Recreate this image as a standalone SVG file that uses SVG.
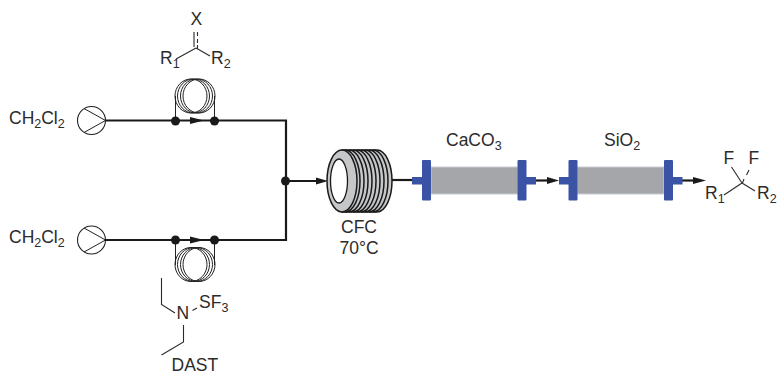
<svg xmlns="http://www.w3.org/2000/svg" width="777" height="374" viewBox="0 0 777 374">
<style>
text{font-family:"Liberation Sans",Arial,sans-serif;font-size:17.5px;fill:#2b2b2b}
.sub{font-size:12.5px}
.pipe{fill:none;stroke:#1a1a1a;stroke-width:2.2}
.thin{fill:none;stroke:#222;stroke-width:1}
.bond{fill:none;stroke:#2b2b2b;stroke-width:1.1}
.dot{fill:#1a1a1a}
.head{fill:#1a1a1a}
.blue{fill:#3b53a4}
.col{fill:#a5a6a9;stroke:#c9ccd6;stroke-width:1}
.ring{fill:#c6c7c9;stroke:#1a1a1a;stroke-width:1.5}
</style>
<defs>
<g id="pump"><circle r="14" fill="#fff" stroke="#222" stroke-width="1.1"/><path class="thin" d="M-7.5-12L14 0L-7.5 12"/></g>
<g id="coil" class="thin"><ellipse cx="-4" cy="0" rx="16" ry="17"/><ellipse cx="-1.5" cy="0" rx="16" ry="17"/><ellipse cx="1.5" cy="0" rx="16" ry="17"/><ellipse cx="4" cy="0" rx="16" ry="17"/></g>
</defs>
<g id="connectors">
<path class="pipe" d="M105 120.500H286V240H105"/>
<path class="pipe" d="M286 181H320"/>
<path class="pipe" d="M392 180H412"/>
<path class="pipe" d="M536 180.500H552"/>
<path class="pipe" d="M682 180.500H698"/>
<path class="thin" d="M175.500 120V96M214.500 120V96M175.500 240V265M214.500 240V265"/>
<path class="head" d="M190 117L204 120.500L190 124Z"/>
<path class="head" d="M190 236.500L204 240L190 243.500Z"/>
<path class="head" d="M316 177.500L328 181L316 184.500Z"/>
<path class="head" d="M547 177L559 180.500L547 184Z"/>
<path class="head" d="M693 177L706 180.500L693 184Z"/>
<circle class="dot" cx="175.500" cy="121" r="4.500"/><circle class="dot" cx="214.500" cy="121" r="4.500"/>
<circle class="dot" cx="175.500" cy="240" r="4.500"/><circle class="dot" cx="214.500" cy="240" r="4.500"/>
<circle class="dot" cx="285.500" cy="181" r="4.500"/>
</g>
<g id="solvent-top"><text x="9" y="124">CH<tspan class="sub" dy="4">2</tspan><tspan dy="-4">Cl</tspan><tspan class="sub" dy="4">2</tspan></text></g>
<g id="pump-top"><use href="#pump" x="91.500" y="120.500"/></g>
<g id="solvent-bottom"><text x="9" y="243">CH<tspan class="sub" dy="4">2</tspan><tspan dy="-4">Cl</tspan><tspan class="sub" dy="4">2</tspan></text></g>
<g id="pump-bottom"><use href="#pump" x="91.500" y="240"/></g>
<g id="coil-top"><use href="#coil" x="195" y="96"/></g>
<g id="coil-bottom"><use href="#coil" x="195" y="264.500"/></g>
<g id="substrate">
<text x="190.500" y="25">X</text>
<path class="bond" d="M194 32V47M197.500 32V36M197.500 39V43M197.500 45V49M196 48L176 59M196 48L210 56"/>
<text x="160" y="64">R<tspan class="sub" dy="4">1</tspan></text>
<text x="211" y="64">R<tspan class="sub" dy="4">2</tspan></text>
</g>
<g id="dast">
<path class="bond" d="M161.500 278V304.500L175 313M192.500 310.500L197 308M183.500 325V342L161.500 355"/>
<text x="176.500" y="319">N</text>
<text x="199" y="308">SF<tspan class="sub" dy="4">3</tspan></text>
<text x="171.500" y="371">DAST</text>
</g>
<g id="cfc">
<path class="ring" d="M342 150H377A15 31 0 0 1 377 212H342Z"/>
<path fill="none" stroke="#1a1a1a" stroke-width="1.500" d="M345 150A15 31 0 0 1 345 212M349 150A15 31 0 0 1 349 212M353 150A15 31 0 0 1 353 212M357 150A15 31 0 0 1 357 212M361 150A15 31 0 0 1 361 212M365 150A15 31 0 0 1 365 212M369 150A15 31 0 0 1 369 212M373 150A15 31 0 0 1 373 212"/>
<ellipse class="ring" cx="342" cy="181" rx="15" ry="31"/>
<ellipse cx="339" cy="181" rx="8.500" ry="22" fill="#fff" stroke="#1a1a1a" stroke-width="1.300"/>
<text x="359" y="233" text-anchor="middle">CFC</text>
<text x="359" y="254" text-anchor="middle">70°C</text>
</g>
<g id="column-caco3">
<rect class="col" x="431" y="167" width="87" height="27"/>
<rect class="blue" x="412" y="177" width="11" height="7.500"/>
<rect class="blue" x="422" y="160" width="9" height="40.500" rx="1"/>
<rect class="blue" x="517.500" y="160" width="9" height="40.500" rx="1"/>
<rect class="blue" x="526" y="177" width="10" height="7.500"/>
<text x="446" y="146">CaCO<tspan class="sub" dy="4">3</tspan></text>
</g>
<g id="column-sio2">
<rect class="col" x="577" y="167" width="87" height="27"/>
<rect class="blue" x="559" y="177" width="10" height="7.500"/>
<rect class="blue" x="568.500" y="160" width="9" height="40.500" rx="1"/>
<rect class="blue" x="664" y="160" width="9" height="40.500" rx="1"/>
<rect class="blue" x="673" y="177" width="9.500" height="7.500"/>
<text x="604" y="146">SiO<tspan class="sub" dy="4">2</tspan></text>
</g>
<g id="product">
<text x="723.500" y="164">F</text>
<text x="748.500" y="164">F</text>
<path class="bond" d="M731.500 167L742 183M749 170L746.500 175M744 179L742.500 183M742 183L724 195M742 183L755 191"/>
<text x="705" y="199">R<tspan class="sub" dy="4">1</tspan></text>
<text x="757" y="199">R<tspan class="sub" dy="4">2</tspan></text>
</g>
</svg>
